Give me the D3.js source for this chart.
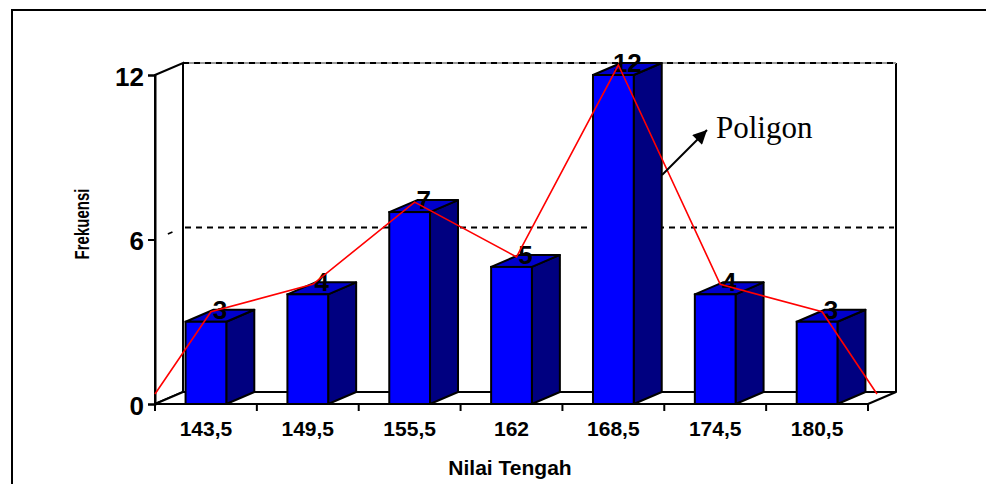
<!DOCTYPE html>
<html>
<head>
<meta charset="utf-8">
<script src="https://cdn.jsdelivr.net/npm/d3@7"></script>
<style>
  html, body { margin: 0; padding: 0; background: #fff; }
  svg { display: block; }
  text { font-family: "Liberation Sans", Arial, sans-serif; font-weight: bold; fill: #000; }
</style>
</head>
<body>
<svg id="chart" width="986" height="484"></svg>
<script>
// ---- data ----
const categories = ["143,5", "149,5", "155,5", "162", "168,5", "174,5", "180,5"];
const frequencies = [3, 4, 7, 5, 12, 4, 3];
const yTickValues = [0, 6, 12];
const xTitle = "Nilai Tengah";
const yTitle = "Frekuensi";
const annotationText = "Poligon";

// ---- layout ----
const svg = d3.select("#chart");
const plotLeft = 155, plotRight = 868, plotBottom = 404, plotTop = 75;
const DX = 28, DY = -12;          // 3D depth offset
const barFrac = 0.4;

const x = d3.scaleBand().domain(categories).range([plotLeft, plotRight]).padding(0);
const y = d3.scaleLinear().domain([0, 12]).range([plotBottom, plotTop]);
const bw = x.bandwidth();
const barW = bw * barFrac;

// outer frame
svg.append("path").attr("d", "M12,484V10H986").attr("fill", "none")
  .attr("stroke", "#000").attr("stroke-width", 2);

// back wall
const bwL = plotLeft + DX, bwR = plotRight + DX, bwT = y(12) + DY, bwB = y(0) + DY;
svg.append("rect").attr("x", bwL).attr("y", bwT).attr("width", bwR - bwL).attr("height", bwB - bwT)
  .attr("fill", "#fff");
svg.append("path")
  .attr("d", `M${bwL},${bwT}V${bwB}M${bwR},${bwB}V${bwT}`)
  .attr("fill", "none").attr("stroke", "#000").attr("stroke-width", 2);
svg.append("line").attr("x1", bwL).attr("x2", bwR).attr("y1", bwT).attr("y2", bwT)
  .attr("stroke", "#999").attr("stroke-width", 2);
svg.append("line").attr("x1", bwL).attr("x2", bwR).attr("y1", bwT).attr("y2", bwT)
  .attr("stroke", "#000").attr("stroke-width", 2).attr("stroke-dasharray", "6,5");

// left wall
svg.append("path")
  .attr("d", `M${plotLeft},${y(0)}L${plotLeft},${y(12)}L${bwL},${bwT}L${bwL},${bwB}Z`)
  .attr("fill", "#fff").attr("stroke", "#000").attr("stroke-width", 2);

// floor
svg.append("path")
  .attr("d", `M${plotLeft},${y(0)}L${plotRight},${y(0)}L${bwR},${bwB}L${bwL},${bwB}Z`)
  .attr("fill", "#fff").attr("stroke", "#000").attr("stroke-width", 2)
  .attr("stroke-linejoin", "round");

// gridlines (inner ticks, not 0/12)
yTickValues.filter(v => v > 0 && v < 12).forEach(v => {
  svg.append("line").attr("x1", bwL + 2).attr("x2", bwR - 2)
    .attr("y1", y(v) + DY).attr("y2", y(v) + DY)
    .attr("stroke", "#000").attr("stroke-width", 2.2).attr("stroke-dasharray", "6,5");
  svg.append("line").attr("x1", plotLeft).attr("x2", bwL)
    .attr("y1", y(v)).attr("y2", y(v) + DY)
    .attr("stroke", "#000").attr("stroke-width", 1.8).attr("stroke-dasharray", "0,14,5,40");
});

// y axis ticks + labels
const yAxis = d3.axisLeft(y).tickValues(yTickValues).tickSize(7).tickPadding(4).tickFormat(d3.format("d"));
const gy = svg.append("g").attr("transform", `translate(${plotLeft},0)`).call(yAxis);
gy.select(".domain").attr("stroke", "#000").attr("stroke-width", 2);
gy.selectAll(".tick line").attr("stroke", "#000").attr("stroke-width", 2);
gy.selectAll(".tick text")
  .attr("x", -11).attr("dy", null).attr("y", 10)
  .style("font-size", "26px").style("font-weight", "bold")
  .style("font-family", "'Liberation Sans', Arial, sans-serif").attr("fill", "#000");

// x axis boundary ticks
const bounds = categories.map(c => x(c)).concat([x.range()[1]]);
svg.selectAll(".xtick").data(bounds).enter().append("line")
  .attr("x1", d => d).attr("x2", d => d)
  .attr("y1", y(0)).attr("y2", y(0) + 7)
  .attr("stroke", "#000").attr("stroke-width", 2);
svg.append("line").attr("x1", plotLeft).attr("x2", plotRight).attr("y1", y(0)).attr("y2", y(0))
  .attr("stroke", "#000").attr("stroke-width", 2);

// x labels
svg.selectAll(".xlab").data(categories).enter().append("text")
  .attr("x", d => x(d) + bw / 2).attr("y", 436)
  .attr("text-anchor", "middle").style("font-size", "21px").text(d => d);

// bars
const bars = svg.selectAll(".bar").data(frequencies).enter().append("g");
bars.each(function (v, i) {
  const g = d3.select(this);
  const x0 = x(categories[i]) + (bw - barW) / 2, x1 = x0 + barW;
  const yt = y(v), yb = y(0);
  g.append("path")
    .attr("d", `M${x1},${yt}L${x1 + DX},${yt + DY}L${x1 + DX},${yb + DY}L${x1},${yb}Z`)
    .attr("fill", "#000080").attr("stroke", "#000").attr("stroke-width", 2).attr("stroke-linejoin", "round");
  g.append("path")
    .attr("d", `M${x0},${yt}L${x1},${yt}L${x1 + DX},${yt + DY}L${x0 + DX},${yt + DY}Z`)
    .attr("fill", "#0000CC").attr("stroke", "#000").attr("stroke-width", 2).attr("stroke-linejoin", "round");
  g.append("rect").attr("x", x0).attr("y", yt).attr("width", barW).attr("height", yb - yt)
    .attr("fill", "#0000FF").attr("stroke", "#000").attr("stroke-width", 2);
});

// data labels
svg.selectAll(".dlab").data(frequencies).enter().append("text")
  .attr("x", (d, i) => x(categories[i]) + bw / 2 + DX / 2)
  .attr("y", d => y(d) - 3)
  .attr("text-anchor", "middle").style("font-size", "26px").text(d => d);

// polygon line
const polyPts = [[x.range()[0], 0]]
  .concat(frequencies.map((v, i) => [x(categories[i]) + bw / 2 + 5, v]))
  .concat([[x.range()[1] + 9, 0]]);
const line = d3.line().x(d => d[0]).y(d => y(d[1]) - 10);
svg.append("path").datum(polyPts).attr("d", line)
  .attr("fill", "none").attr("stroke", "#FF0000").attr("stroke-width", 1.6);

// annotation arrow
const defs = svg.append("defs");
defs.append("marker").attr("id", "ah").attr("viewBox", "0 0 10 10")
  .attr("refX", 10).attr("refY", 5).attr("markerWidth", 8).attr("markerHeight", 7)
  .attr("markerUnits", "strokeWidth").attr("orient", "auto")
  .append("path").attr("d", "M0,0L10,5L0,10Z").attr("fill", "#000");
svg.append("line").attr("x1", 662).attr("y1", 175).attr("x2", 707).attr("y2", 130)
  .attr("stroke", "#000").attr("stroke-width", 2).attr("marker-end", "url(#ah)");
svg.append("text").attr("x", 716).attr("y", 138)
  .style("font-family", "'Liberation Serif', 'Times New Roman', serif")
  .style("font-weight", "normal").style("font-size", "31px").text(annotationText);

// axis titles
svg.append("text").attr("x", 510).attr("y", 475).attr("text-anchor", "middle")
  .style("font-size", "21px").text(xTitle);
svg.append("text").attr("transform", "translate(89,224) rotate(-90) scale(1,1.3)")
  .attr("text-anchor", "middle").style("font-size", "15px").text(yTitle);
</script>
</body>
</html>
